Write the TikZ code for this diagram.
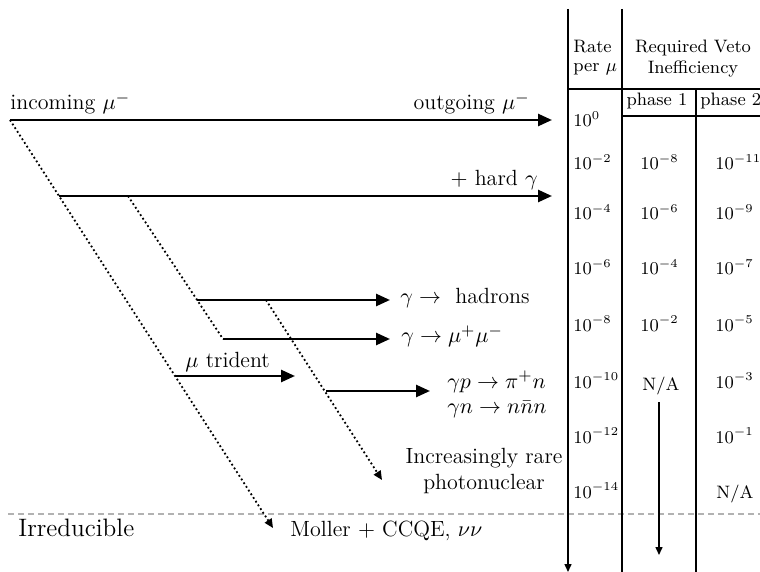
\documentclass[tikz,border=0pt]{standalone}
\usetikzlibrary{arrows.meta}
\begin{document}
\begin{tikzpicture}[x=0.5pt,y=-0.5pt,
  every node/.style={inner sep=0pt, font=\fontsize{11}{13}\selectfont},
  tab/.style={font=\fontsize{9}{11}\selectfont},
  bigarrow/.style={line width=1.3pt,-{Triangle[length=7pt,width=6pt]}},
  dotline/.style={line width=0.9pt,dash pattern=on 0.9pt off 1.3pt},
  dotarrow/.style={dotline,-{Triangle[length=4.5pt,width=4pt]}},
  rule/.style={line width=0.75pt},
  smallarrow/.style={rule,-{Triangle[length=4pt,width=3.5pt]}},
  sep/.style={gray!60,line width=0.8pt,dash pattern=on 3pt off 2pt}
]
\useasboundingbox (0,0) rectangle (760,572);

% separator
\coordinate (sepL) at (8,514);
\coordinate (sepR) at (760,514);
\draw[sep] (sepL) -- (sepR);

% coordinates of the process lines
\coordinate (in) at (10,120);
\coordinate (out) at (552,120);
\coordinate (hs) at (59,196);
\coordinate (he) at (552,196);
\coordinate (hadS) at (197,300);
\coordinate (hadE) at (390,300);
\coordinate (mmS) at (223,339);
\coordinate (mmE) at (390,339);
\coordinate (trS) at (175,376);
\coordinate (trE) at (295,376);
\coordinate (gpS) at (326,391);
\coordinate (gpE) at (430,391);
\coordinate (d1E) at (273,528);
\coordinate (d2S) at (128,196);
\coordinate (d3S) at (266,300);
\coordinate (d3E) at (382,480);

% dotted lines
\draw[dotarrow] (in) -- (d1E);
\draw[dotline] (d2S) -- (mmS);
\draw[dotarrow] (d3S) -- (d3E);

% solid arrows
\draw[bigarrow] (in) -- (out);
\draw[bigarrow] (hs) -- (he);
\draw[bigarrow] (hadS) -- (hadE);
\draw[bigarrow] (mmS) -- (mmE);
\draw[bigarrow] (trS) -- (trE);
\draw[bigarrow] (gpS) -- (gpE);

% labels
\node[anchor=base west] (inc) at (10,110) {incoming $\mu^-$};
\node[anchor=base east] (outg) at (530,110) {outgoing $\mu^-$};
\node[anchor=base east] (hard) at (538,186) {$+$ hard $\gamma$};
\node[anchor=base west] (had) at (400,303) {$\gamma \rightarrow~$ hadrons};
\node[anchor=base west] (mm) at (401,343) {$\gamma \rightarrow \mu^+\mu^-$};
\node[anchor=base west] (tri) at (185,367) {$\mu$ trident};
\node[anchor=west, align=left, font=\fontsize{11}{12.5}\selectfont] (gp) at (447,394)
  {$\gamma p \rightarrow \pi^+ n$\\$\gamma n \rightarrow n\bar{n}n$};
\node[anchor=base] (rare1) at (484,463) {Increasingly rare};
\node[anchor=base] (rare2) at (484,489) {photonuclear};
\node[anchor=base west] (mol) at (290,536) {Moller $+$ CCQE, $\nu\nu$};
\node[anchor=base west, font=\fontsize{12.6}{15}\selectfont] (irr) at (18,536) {Irreducible};

% table rules
\coordinate (v1t) at (568,9);
\coordinate (v1b) at (568,572);
\coordinate (v2t) at (622,9);
\coordinate (v2b) at (622,572);
\coordinate (v3t) at (696,89);
\coordinate (v3b) at (696,572);
\coordinate (h1l) at (568,89);
\coordinate (h1r) at (760,89);
\coordinate (h2l) at (622,116);
\coordinate (h2r) at (760,116);
\coordinate (na1) at (659,402);
\coordinate (na2) at (659,555);
\draw[smallarrow] (v1t) -- (v1b);
\draw[rule] (v2t) -- (v2b);
\draw[rule] (v3t) -- (v3b);
\draw[rule] (h1l) -- (h1r);
\draw[rule] (h2l) -- (h2r);
\draw[smallarrow] (na1) -- (na2);

% table header
\node[tab,anchor=base west] (rate1) at (573,53) {Rate};
\node[tab,anchor=base west] (rate2) at (573,72) {per $\mu$};
\node[tab,anchor=base] (req1) at (693,53) {Required Veto};
\node[tab,anchor=base] (req2) at (693,74) {Inefficiency};
\node[tab,anchor=base] (ph1) at (657,106) {phase 1};
\node[tab,anchor=base west] (ph2) at (700,106) {phase 2};

% rate column
\node[tab,anchor=base west] (r0) at (573,127) {$10^{0}$};
\node[tab,anchor=base west] (r2) at (573,170) {$10^{-2}$};
\node[tab,anchor=base west] (r4) at (573,220) {$10^{-4}$};
\node[tab,anchor=base west] (r6) at (573,275) {$10^{-6}$};
\node[tab,anchor=base west] (r8) at (573,331) {$10^{-8}$};
\node[tab,anchor=base west] (r10) at (573,388) {$10^{-10}$};
\node[tab,anchor=base west] (r12) at (573,443) {$10^{-12}$};
\node[tab,anchor=base west] (r14) at (573,498) {$10^{-14}$};

% phase 1 column
\node[tab,anchor=base west] (p1a) at (640,170) {$10^{-8}$};
\node[tab,anchor=base west] (p1b) at (640,220) {$10^{-6}$};
\node[tab,anchor=base west] (p1c) at (640,275) {$10^{-4}$};
\node[tab,anchor=base west] (p1d) at (640,331) {$10^{-2}$};
\node[tab,anchor=base west] (p1e) at (642,390) {N/A};

% phase 2 column
\node[tab,anchor=base west] (p2a) at (715,170) {$10^{-11}$};
\node[tab,anchor=base west] (p2b) at (715,220) {$10^{-9}$};
\node[tab,anchor=base west] (p2c) at (715,275) {$10^{-7}$};
\node[tab,anchor=base west] (p2d) at (715,331) {$10^{-5}$};
\node[tab,anchor=base west] (p2e) at (715,388) {$10^{-3}$};
\node[tab,anchor=base west] (p2f) at (715,443) {$10^{-1}$};
\node[tab,anchor=base west] (p2g) at (716,498) {N/A};
\end{tikzpicture}
\end{document}
